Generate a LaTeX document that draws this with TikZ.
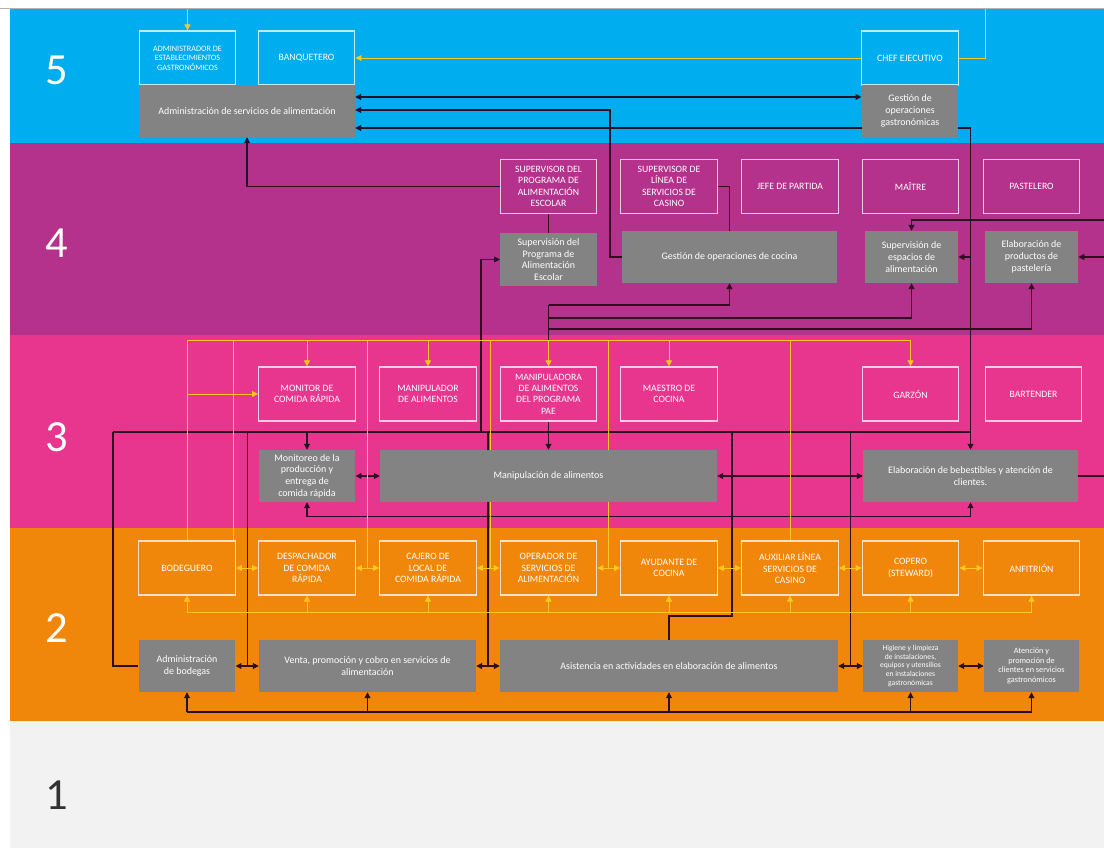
\documentclass[tikz,border=0pt]{standalone}
\usepackage{fontspec}
\setmainfont{Carlito}
\usetikzlibrary{arrows.meta,calc}

\definecolor{blue5}{HTML}{00ADEE}
\definecolor{purple4}{HTML}{B4318C}
\definecolor{pink3}{HTML}{E8368F}
\definecolor{orange2}{HTML}{F0870A}
\definecolor{grey1}{HTML}{F2F2F2}
\definecolor{compgray}{HTML}{838383}
\definecolor{wireyellow}{HTML}{FFC81E}
\definecolor{wiredark}{HTML}{2A1020}

\pgfdeclarelayer{bands}
\pgfdeclarelayer{wires}
\pgfsetlayers{bands,wires,main}

\begin{document}
\begin{tikzpicture}[x=0.03cm, y=-0.03cm,
    occ_node/.style={draw=#1!25!white, line width=1.1pt, fill=#1, minimum width=2.9cm, minimum height=1.62cm, inner sep=1pt, align=center, text=white, font=\fontsize{8.3}{9.6}\selectfont},
    comp_node/.style={fill=compgray, minimum width=2.9cm, minimum height=1.56cm, inner sep=1pt, align=center, text=white, font=\fontsize{8.5}{10}\selectfont},
    level_num/.style={text=white, font=\fontsize{38}{38}\selectfont},
    yline/.style={draw=wireyellow, line width=0.75pt},
    yarrow/.style={yline, -{Triangle[length=5pt,width=5pt]}},
    yboth/.style={yline, {Triangle[length=5pt,width=5pt]}-{Triangle[length=5pt,width=5pt]}},
    bline/.style={draw=wiredark, line width=0.9pt},
    barrow/.style={bline, -{Triangle[length=5pt,width=5pt]}},
    bboth/.style={bline, {Triangle[length=5pt,width=5pt]}-{Triangle[length=5pt,width=5pt]}}]

    \useasboundingbox (0,0) rectangle (1104,848);

    \begin{pgfonlayer}{bands}
    \fill[white] (0,0) rectangle (1104,848);
    \draw[gray!60, line width=0.8pt] (0,8) -- (1104,8);
    \fill[blue5] (10,9) rectangle (1104,143);
    \fill[purple4] (10,143) rectangle (1104,335);
    \fill[pink3] (10,335) rectangle (1104,528);
    \fill[orange2] (10,528) rectangle (1104,721);
    \fill[grey1] (10,721) rectangle (1104,848);
    \end{pgfonlayer}

    \node[level_num] (n5) at (57,70) {5};
    \node[level_num] (n4) at (57,243) {4};
    \node[level_num] (n3) at (57,437) {3};
    \node[level_num] (n2) at (57,628) {2};
    \node[level_num, text=black!80] (n1) at (57,795) {1};

    % nivel 5
    \node[occ_node=blue5, font=\fontsize{7}{8.2}\selectfont] (o51) at (187.5,58) {ADMINISTRADOR DE\\ESTABLECIMIENTOS\\GASTRONÓMICOS};
    \node[occ_node=blue5] (o52) at (306.5,58) {BANQUETERO};
    \node[occ_node=blue5] (o53) at (910,58) {CHEF EJECUTIVO};
    \node[comp_node, minimum width=6.48cm] (c51) at (247,111) {Administración de servicios de alimentación};
    \node[comp_node] (c52) at (910,111) {Gestión de\\operaciones\\gastronómicas};

    % nivel 4
    \node[occ_node=purple4] (o41) at (548.5,186.5) {SUPERVISOR DEL\\PROGRAMA DE\\ALIMENTACIÓN\\ESCOLAR};
    \node[occ_node=purple4] (o42) at (669,186.5) {SUPERVISOR DE\\LÍNEA DE\\SERVICIOS DE\\CASINO};
    \node[occ_node=purple4] (o43) at (790,186.5) {JEFE DE PARTIDA};
    \node[occ_node=purple4] (o44) at (910.5,186.5) {MAÎTRE};
    \node[occ_node=purple4] (o45) at (1031.5,186.5) {PASTELERO};
    \node[comp_node] (c41) at (548.5,259.5) {Supervisión del\\Programa de\\Alimentación\\Escolar};
    \node[comp_node, minimum width=6.45cm] (c42) at (729.5,257) {Gestión de operaciones de cocina};
    \node[comp_node, minimum width=2.8cm] (c43) at (911.5,257) {Supervisión de\\espacios de\\alimentación};
    \node[comp_node, minimum width=2.8cm] (c44) at (1031.5,257) {Elaboración de\\productos de\\pastelería};

    % nivel 3
    \node[occ_node=pink3] (o31) at (307,394) {MONITOR DE\\COMIDA RÁPIDA};
    \node[occ_node=pink3] (o32) at (428,394) {MANIPULADOR\\DE ALIMENTOS};
    \node[occ_node=pink3] (o33) at (548.5,394) {MANIPULADORA\\DE ALIMENTOS\\DEL PROGRAMA\\PAE};
    \node[occ_node=pink3] (o34) at (669,394) {MAESTRO DE\\COCINA};
    \node[occ_node=pink3] (o35) at (910.5,394) {GARZÓN};
    \node[occ_node=pink3] (o36) at (1033.5,394) {BARTENDER};
    \node[comp_node] (c31) at (307,476) {Monitoreo de la\\producción y\\entrega de\\comida rápida};
    \node[comp_node, minimum width=10.11cm] (c32) at (548.5,476) {Manipulación de alimentos};
    \node[comp_node, minimum width=6.45cm] (c33) at (970.5,476) {Elaboración de bebestibles y atención de\\clientes.};

    % nivel 2
    \node[occ_node=orange2] (o21) at (187,568) {BODEGUERO};
    \node[occ_node=orange2] (o22) at (307,568) {DESPACHADOR\\DE COMIDA\\RÁPIDA};
    \node[occ_node=orange2] (o23) at (428,568) {CAJERO DE\\LOCAL DE\\COMIDA RÁPIDA};
    \node[occ_node=orange2] (o24) at (548.5,568) {OPERADOR DE\\SERVICIOS DE\\ALIMENTACIÓN};
    \node[occ_node=orange2] (o25) at (669,568) {AYUDANTE DE\\COCINA};
    \node[occ_node=orange2] (o26) at (790,568) {AUXILIAR LÍNEA\\SERVICIOS DE\\CASINO};
    \node[occ_node=orange2] (o27) at (910.5,568) {COPERO\\(STEWARD)};
    \node[occ_node=orange2] (o28) at (1031.5,568) {ANFITRIÓN};
    \node[comp_node] (c21) at (187,666) {Administración\\de bodegas};
    \node[comp_node, minimum width=6.51cm] (c22) at (367.5,666) {Venta, promoción y cobro en servicios de\\alimentación};
    \node[comp_node, minimum width=10.14cm] (c23) at (669,666) {Asistencia en actividades en elaboración de alimentos};
    \node[comp_node, minimum width=2.85cm, font=\fontsize{6.5}{7.5}\selectfont] (c24) at (910.5,666) {Higiene y limpieza\\de instalaciones,\\equipos y utensilios\\en instalaciones\\gastronómicas};
    \node[comp_node, minimum width=2.85cm, font=\fontsize{7}{8.2}\selectfont] (c25) at (1031.5,666) {Atención y\\promoción de\\clientes en servicios\\gastronómicos};

    \coordinate (top_a) at (187.5,9);
    \coordinate (top_b) at (985,9);
    \coordinate (edge_a) at (1104,220);
    \coordinate (edge_b) at (1104,257);
    \coordinate (edge_c) at (1104,476);
    \coordinate (bus4) at (548.5,305);
    \coordinate (bus3w) at (113,432);
    \coordinate (ybus3) at (187,340);
    \coordinate (ybus2) at (187,612);
    \coordinate (bbus2) at (187,712);
    \coordinate (g21) at ($(c21.east)!.5!(c22.west)$);
    \coordinate (g23) at ($(c22.east)!.5!(c23.west)$);
    \coordinate (g34) at ($(c23.east)!.5!(c24.west)$);
    \coordinate (y12) at (233,568);
    \coordinate (y23) at ($(o22.east)!.5!(o23.west)$);
    \coordinate (y34) at ($(o23.east)!.5!(o24.west)$);
    \coordinate (y45) at ($(o24.east)!.5!(o25.west)$);

    \begin{pgfonlayer}{wires}
    % nivel 5
    \draw[yarrow] (top_a) -- (o51.north);
    \draw[yarrow] (o53.west) -- (o52.east);
    \draw[yline] (o53.east) -| (top_b);
    \draw[bboth] (c51.east |- 0,97) -- (c52.west |- 0,97);
    \draw[barrow] (c42.west) -| (610,110) -- (c51.east |- 0,110);
    \draw[bboth] (c33.north) |- (c51.east |- 0,128);
    \draw[barrow] (o41.west) -| (c51.south);

    % nivel 4
    \draw[bline] (o41.south) -- (c41.north);
    \draw[bline] (o42.east) -| (c42.north);
    \draw[barrow] (c43.east -| c33.north) -- (c43.east);
    \draw[barrow] (edge_a) -| (c43.north);
    \draw[barrow] (edge_b) -- (c44.east);
    \draw[barrow] (bus4) -| (c42.south);
    \draw[barrow] (bus4 |- 0,318) -| (c43.south);
    \draw[barrow] (bus4 |- 0,329) -| (c44.south);
    \draw[barrow] (bus4) -- (c32.north);

    % nivel 3
    \draw[bline] (bus3w) -- (bus3w -| c33.north);
    \draw[bline] (bus3w) |- (c21.west);
    \draw[bline] (bus3w -| g21) -- (g21);
    \draw[barrow] (bus3w -| c31.north) -- (c31.north);
    \draw[barrow] (481,432) |- (c41.west);
    \draw[bline] (bus3w -| g23) -- (g23);
    \draw[bline] (732,432) |- (c23.north |- 0,616) -- (c23.north);
    \draw[bline] (bus3w -| g34) -- (g34);
    \draw[bboth] (c31.east) -- (c32.west);
    \draw[bboth] (c32.east) -- (c33.west);
    \draw[bboth] (c31.south) -- ++(0,14) -| (c33.south);
    \draw[bline] (c33.east) -- (edge_c);

    \draw[yline] (ybus3) -- (ybus3 -| o35.north);
    \foreach \n in {o31,o32,o33,o34,o35}
        \draw[yarrow] (ybus3 -| \n.north) -- (\n.north);
    \draw[yline] (ybus3) -- (o21.north);
    \draw[yarrow] (ybus3 |- o31.west) -- (o31.west);
    \draw[yline] (ybus3 -| y12) -- (y12);
    \draw[yline] (ybus3 -| y23) -- (y23);
    \draw[yline] ([xshift=2pt]ybus3 -| y34) -- ([xshift=2pt]y34);
    \draw[yline] (ybus3 -| y45) -- (y45);
    \draw[yline] (ybus3 -| o26.north) -- (o26.north);

    % nivel 2
    \foreach \a/\b in {o21/o22,o22/o23,o23/o24,o24/o25,o25/o26,o26/o27,o27/o28}
        \draw[yboth] (\a.east) -- (\b.west);
    \draw[yline] (ybus2) -- (ybus2 -| o28.south);
    \foreach \n in {o21,o22,o23,o24,o25,o26,o27,o28}
        \draw[yarrow] (ybus2 -| \n.south) -- (\n.south);
    \foreach \a/\b in {c21/c22,c22/c23,c23/c24,c24/c25}
        \draw[bboth] (\a.east) -- (\b.west);
    \draw[bline] (bbus2) -- (bbus2 -| c25.south);
    \foreach \n in {c21,c22,c23,c24,c25}
        \draw[barrow] (bbus2 -| \n.south) -- (\n.south);
    \end{pgfonlayer}
\end{tikzpicture}
\end{document}
